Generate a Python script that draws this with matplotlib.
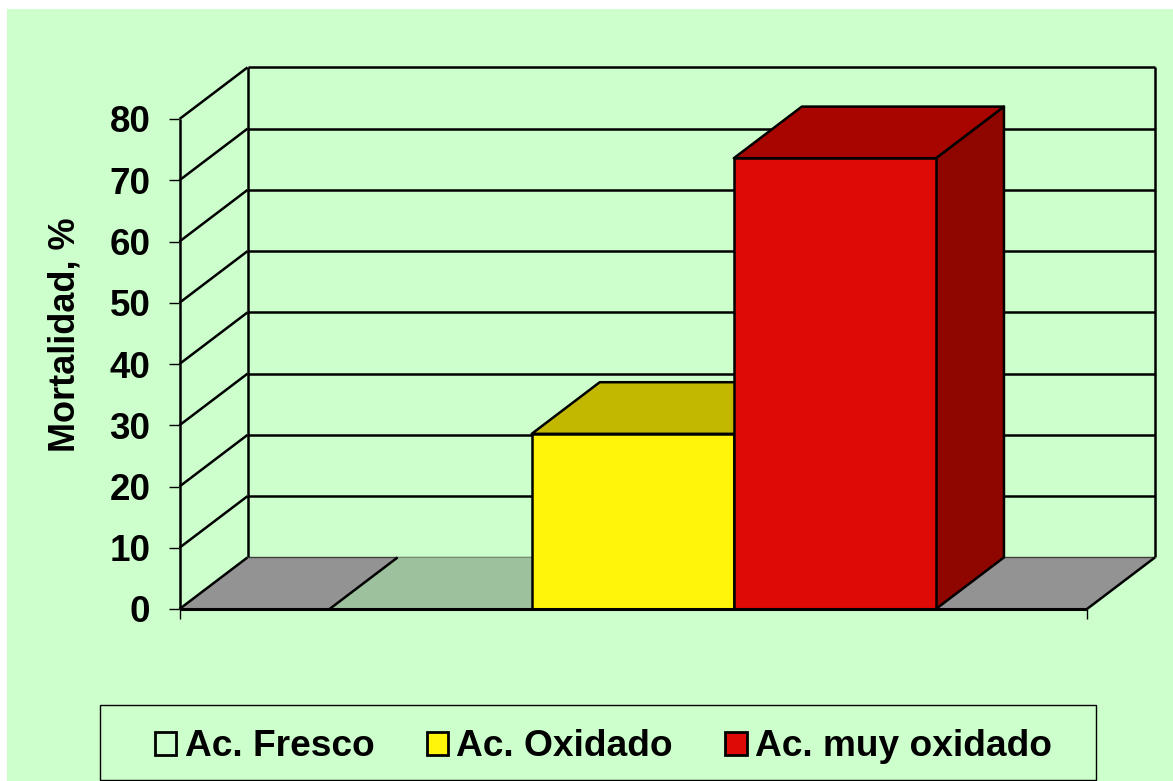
import matplotlib
matplotlib.use('Agg')
import matplotlib.pyplot as plt
from matplotlib.patches import Polygon, Rectangle, Patch

categories = ['Ac. Fresco', 'Ac. Oxidado', 'Ac. muy oxidado']
values = [0, 28.6, 73.6]
y_ticks = [0, 10, 20, 30, 40, 50, 60, 70, 80]

front_colors = ['#CCFFCC', '#FFF50A', '#DD0A05']
top_colors = ['#9DC19D', '#C2B800', '#A80500']
side_colors = ['#9DC19D', '#A89F00', '#8F0500']
green = '#CCFFCC'
floor_grey = '#939393'
lw = 1.8

W, H = 1173, 781
plt.rcParams['font.family'] = ['Liberation Sans', 'DejaVu Sans']
plt.rcParams['font.weight'] = 'bold'

fig = plt.figure(figsize=(W/100, H/100), dpi=100, facecolor='white')
fig.add_artist(Rectangle((7/W, 0), 1-7/W, 1-9/H, transform=fig.transFigure, fc=green, ec='none', zorder=-5))

ax = fig.add_axes([179.5/W, 1-609/H, (1087-179.5)/W, 490/H])
ax.patch.set_alpha(0)
for s in ax.spines.values():
    s.set_visible(False)

px_x = 202.0            # pixels per bar
px_y = 490/80           # pixels per y unit
xmin = -0.5-150/px_x
xmax = 2.5+151/px_x
ax.set_xlim(xmin, xmax)
ax.set_ylim(0, 80)
dx = 68/px_x            # depth of the fake 3d box
dy = 51.6/px_y


def poly(points, fc, ec='black', lw=lw, z=2):
    ax.add_patch(Polygon(points, closed=True, fc=fc, ec=ec, lw=lw, zorder=z, clip_on=False, joinstyle='round'))


def line(xs, ys, lw=lw, z=3, color='black'):
    ax.plot(xs, ys, color=color, lw=lw, zorder=z, clip_on=False, solid_capstyle='butt')


# floor
poly([(xmin, 0), (xmax, 0), (xmax+dx, dy), (xmin+dx, dy)], floor_grey, ec='none', z=1)

# walls and gridlines
for t in y_ticks:
    if t > 0:
        line([xmin+dx, xmax+dx], [t+dy, t+dy], z=1.5)
        line([xmin, xmin+dx], [t, t+dy], z=1.5)
line([xmin+dx, xmax+dx], [dy, dy], lw=1, z=1.5, color='#404040')
line([xmin, xmin], [0, 80], z=1.6)
line([xmin+dx, xmin+dx], [dy, 80+dy], z=1.6)
line([xmax+dx, xmax+dx], [dy, 80+dy], z=1.6)
line([xmin, xmin+dx], [0, dy], z=1.6)
line([xmax, xmax+dx], [0, dy], z=1.6)

# bars, back ones first
for i in range(3):
    v = values[i]
    l, r = i-0.5, i+0.5
    if v == 0:
        # no height: only the flat top shows on the floor
        poly([(l, 0), (r, 0), (r+dx, dy), (l+dx, dy)], top_colors[i], ec='none', z=2)
        line([l, l+dx], [0, dy], z=2.1)
        continue
    z = 3+i
    poly([(r, 0), (r+dx, dy), (r+dx, v+dy), (r, v)], side_colors[i], z=z)
    poly([(l, v), (r, v), (r+dx, v+dy), (l+dx, v+dy)], top_colors[i], z=z)
    poly([(l, 0), (r, 0), (r, v), (l, v)], front_colors[i], z=z)

line([xmin, xmax], [0, 0], lw=2.2, z=8)

ax.set_yticks(y_ticks)
ax.set_xticks([xmin, xmax])
ax.set_xticklabels([])
ax.tick_params(axis='y', length=7, width=1, labelsize=26.5, pad=14)
ax.tick_params(axis='x', length=7, width=1)
fig.text(65/W, 1-335/H, 'Mortalidad, %', rotation=90, ha='center', va='center', fontsize=26, fontweight='bold')

# legend
fig.add_artist(Rectangle((100/W, 1-780/H), 996/W, 75/H, transform=fig.transFigure, fc=green, ec='black', lw=1))
handles = [Patch(fc=front_colors[i], ec='black', lw=2) for i in range(3)]
fig.legend(handles, categories, loc='center', bbox_to_anchor=(603.5/W, 1-747/H), ncol=3, frameon=False,
           prop={'size': 26.7, 'weight': 'bold'}, handlelength=0.57, handleheight=0.57, handletextpad=0.22, columnspacing=1.42)

fig.savefig('out.png', dpi=100, facecolor='white')
